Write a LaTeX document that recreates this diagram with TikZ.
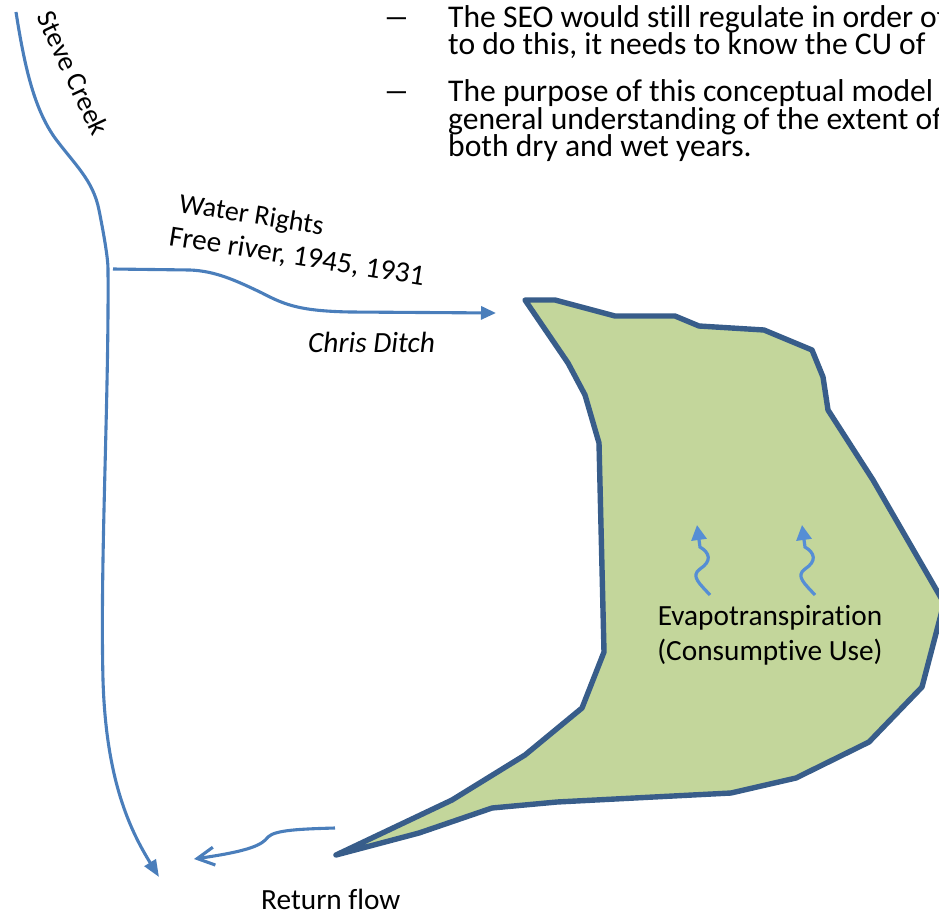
\documentclass[tikz,border=0pt]{standalone}
\usepackage{fontspec}
\setmainfont[Ligatures={NoCommon}]{Carlito}
\usetikzlibrary{arrows.meta}
\definecolor{creek}{HTML}{4A7EBB}
\definecolor{etblue}{HTML}{558ED5}
\definecolor{fieldfill}{HTML}{C3D69B}
\definecolor{fieldline}{HTML}{385D8A}
\begin{document}
\begin{tikzpicture}[x=1pt,y=-1pt,
  bigtxt/.style={inner sep=0pt,anchor=base west,font=\fontsize{31.6}{36}\selectfont},
  lbl/.style={inner sep=0pt,font=\fontsize{29.3}{35.5}\selectfont},
  creekline/.style={draw=creek,line width=3.1pt},
  etarrow/.style={draw=etblue,line width=3.2pt,-{Triangle[length=15pt,width=15pt]}},
  field/.style={draw=fieldline,fill=fieldfill,line width=5.4pt,line join=round}]
\useasboundingbox (0,0) rectangle (939,915);
\clip (0,0) rectangle (939,915);

% bullet text
\node[bigtxt] (d1) at (383,28) {\scalebox{1.7}[1]{–}};
\node[bigtxt] (t1) at (448,28) {The SEO would still regulate in order of};
\node[bigtxt] (t2) at (448,55) {to do this, it needs to know the CU of};
\node[bigtxt] (d2) at (383,102) {\scalebox{1.7}[1]{–}};
\node[bigtxt] (t3) at (448,102) {The purpose of this conceptual model};
\node[bigtxt] (t4) at (448,129) {general understanding of the extent of};
\node[bigtxt] (t5) at (448,156) {both dry and wet years.};

% field
\path[field] (525,300) -- (555,300) -- (615,316) -- (675,316) -- (699,326) -- (764,330)
  -- (812,350) -- (823,377) -- (828,410) -- (873,480) -- (944,603) -- (922,687)
  -- (869,742) -- (796,778) -- (731,793) -- (557,802) -- (492,808) -- (419,833)
  -- (336,855) -- (452,800) -- (525,755) -- (582,708) -- (604,652) -- (599,443)
  -- (585,395) -- (568,363) -- cycle;

% Steve Creek
\coordinate (cs) at (16,12);
\coordinate (cj) at (108,269);
\coordinate (ce) at (159,877);
\draw[creekline,-{Triangle[length=17pt,width=13pt]}] (cs)
  .. controls (25,70) and (35,110) .. (55,138)
  .. controls (75,165) and (93,180) .. (99,210)
  .. controls (105,240) and (108,260) .. (cj)
  .. controls (109,400) and (100,560) .. (103,680)
  .. controls (106,780) and (130,830) .. (ce);
\node[lbl,rotate=-65,font=\fontsize{28}{32}\selectfont] (sc) at (73,73) {Steve Creek};

% Chris Ditch
\coordinate (ds) at (113,269);
\coordinate (de) at (496,313);
\draw[creekline,-{Triangle[length=15pt,width=13pt]}] (ds) -- (190,270)
  .. controls (215,271) and (235,280) .. (262,293)
  .. controls (285,305) and (300,311) .. (350,312) -- (de);
\node[lbl,anchor=base west,rotate=-9,font=\fontsize{28}{32}\selectfont] (wr) at (178,212) {Water Rights};
\node[lbl,anchor=base west,rotate=-9] (fr) at (168,245) {Free river, 1945, 1931};
\node[lbl,anchor=base west,font=\itshape\fontsize{29.3}{35.5}\selectfont] (cd) at (308,352) {Chris Ditch};

% Evapotranspiration
\coordinate (e1s) at (710,595);
\coordinate (e1e) at (697,525);
\coordinate (e2s) at (815,595);
\coordinate (e2e) at (802,525);
\draw[etarrow] (e1s) .. controls (700,584) and (690,576) .. (700,569)
  .. controls (712,561) and (710,553) .. (700,547) -- (e1e);
\draw[etarrow] (e2s) .. controls (805,584) and (795,576) .. (805,569)
  .. controls (817,561) and (815,553) .. (805,547) -- (e2e);
\node[lbl,anchor=base] (et1) at (770,625) {Evapotranspiration};
\node[lbl,anchor=base] (et2) at (770,660) {(Consumptive Use)};

% Return flow
\coordinate (rs) at (335,828);
\coordinate (re) at (194,859);
\draw[creekline,-{Straight Barb[length=17pt,width=18pt]}] (rs)
  .. controls (300,829) and (275,830) .. (268,837)
  .. controls (262,845) and (250,851) .. (re);
\node[lbl,anchor=base west] (rf) at (261,909) {Return flow};
\end{tikzpicture}
\end{document}
